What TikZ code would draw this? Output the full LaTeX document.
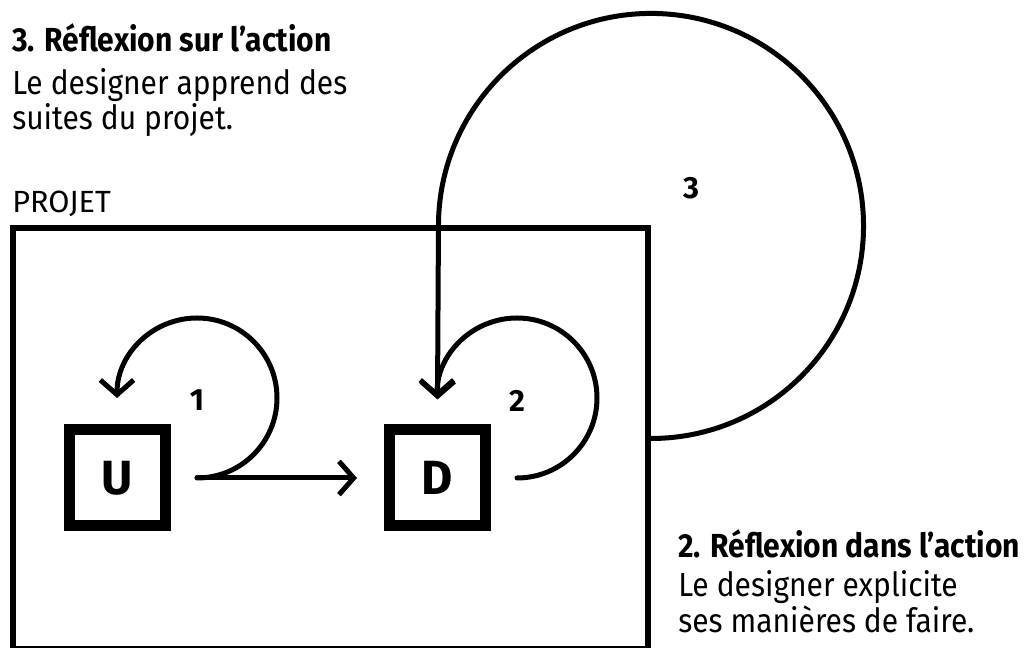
\documentclass[tikz,border=0pt]{standalone}
\usepackage{fontspec}
\setmainfont{Fira Sans}[FakeStretch=0.9]
\newfontfamily\capsfont{Fira Sans}
\usetikzlibrary{arrows.meta}

\begin{document}
\begin{tikzpicture}[x=0.75pt,y=0.75pt,->,>={Straight Barb[length=11pt,width=25pt]},
  flow/.style={line width=3.75pt,line cap=round,line join=round},
  box node/.style={rectangle,draw,line width=8.25pt,minimum size=72pt,inner sep=0pt,font=\capsfont\fontsize{36pt}{36pt}\selectfont\bfseries},
  num node/.style={inner sep=0pt,font=\capsfont\fontsize{23pt}{23pt}\selectfont\bfseries},
  title node/.style={anchor=base west,inner sep=0pt,font=\fontsize{25pt}{30pt}\selectfont\bfseries},
  text node/.style={anchor=base west,inner sep=0pt,font=\fontsize{25pt}{30pt}\selectfont}]
  \useasboundingbox (0,0) rectangle (1029,648);

  \node[draw,line width=4.5pt,minimum width=476.25pt,minimum height=315.75pt,inner sep=0pt] (projet) at (330.5,209.5) {};
  \node[text node,font=\capsfont\fontsize{23pt}{23pt}\selectfont] (projetlabel) at (12,435) {PROJET};

  \node[box node] (U) at (117.5,170) {U};
  \node[box node] (D) at (437.5,170) {D};

  \node[num node] (n1) at (197,248) {1};
  \node[num node] (n2) at (517,247) {2};
  \node[num node] (n3) at (691,460) {3};

  \draw[flow] ([xshift=19.5pt]U.east) -- ([xshift=-20.25pt]D.west);
  \draw[flow] ([xshift=19.5pt]U.east) arc[start angle=-90,end angle=180,radius=60pt];
  \draw[flow] ([xshift=19.5pt]D.east) arc[start angle=-90,end angle=180,radius=60pt];
  \draw[flow] (projet.east) arc[start angle=-90,end angle=180,radius=159.4pt] -- ([yshift=18.75pt]D.north);

  \node[title node] (t3) at (12,596) {3. Réflexion sur l’action};
  \node[text node] (t3a) at (12,553) {Le designer apprend des};
  \node[text node] (t3b) at (12,518) {suites du projet.};

  \node[title node] (t2) at (678,90) {2. Réflexion dans l’action};
  \node[text node] (t2a) at (678,51) {Le designer explicite};
  \node[text node] (t2b) at (678,15) {ses manières de faire.};
\end{tikzpicture}
\end{document}
